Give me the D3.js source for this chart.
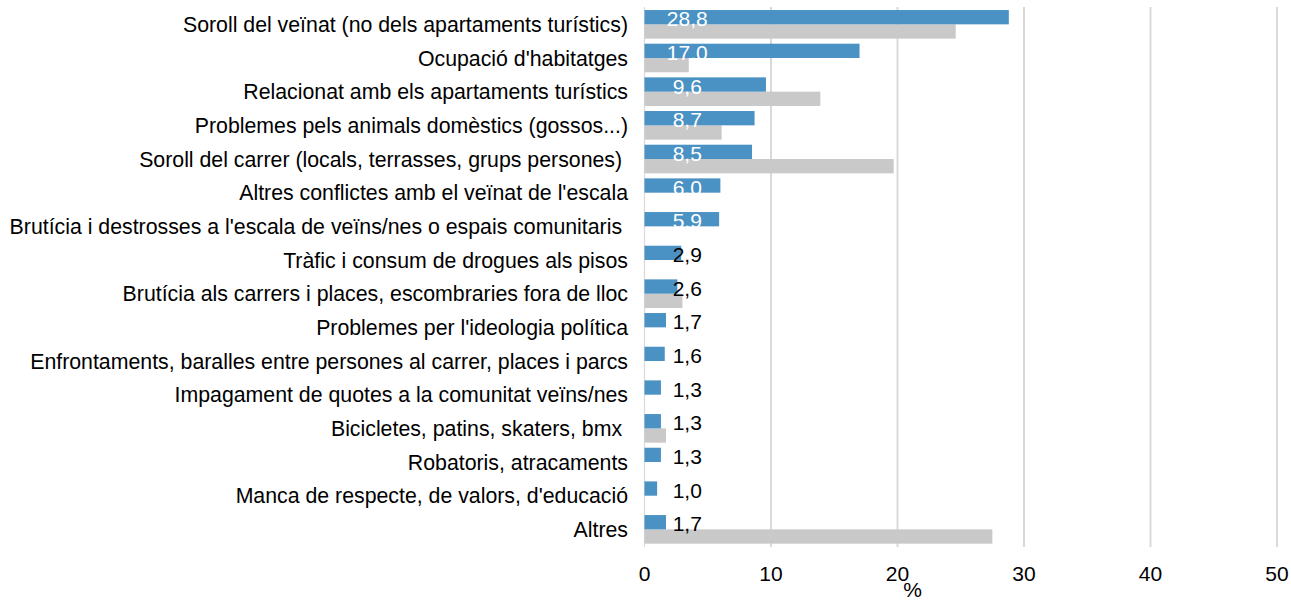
<!DOCTYPE html>
<html>
<head>
<meta charset="utf-8">
<script src="https://cdn.jsdelivr.net/npm/d3@7"></script>
<style>
    body { margin: 0; background: #fff; }
    svg text { font-family: "Liberation Sans", Arial, sans-serif; }
</style>
</head>
<body>
<svg id="chart" width="1291" height="600"></svg>
<script>
// categories, top to bottom
var categories = [
    "Soroll del veïnat (no dels apartaments turístics)",
    "Ocupació d'habitatges",
    "Relacionat amb els apartaments turístics",
    "Problemes pels animals domèstics (gossos...)",
    "Soroll del carrer (locals, terrasses, grups persones) ",
    "Altres conflictes amb el veïnat de l'escala",
    "Brutícia i destrosses a l'escala de veïns/nes o espais comunitaris ",
    "Tràfic i consum de drogues als pisos",
    "Brutícia als carrers i places, escombraries fora de lloc",
    "Problemes per l'ideologia política",
    "Enfrontaments, baralles entre persones al carrer, places i parcs",
    "Impagament de quotes a la comunitat veïns/nes",
    "Bicicletes, patins, skaters, bmx ",
    "Robatoris, atracaments",
    "Manca de respecte, de valors, d'educació",
    "Altres"
];

// blue series (labelled)
var valuesBlue = [28.8, 17.0, 9.6, 8.7, 8.5, 6.0, 5.9, 2.9, 2.6, 1.7, 1.6, 1.3, 1.3, 1.3, 1.0, 1.7];
// grey series (no labels)
var valuesGrey = [24.6, 3.5, 13.9, 6.1, 19.7, 0, 0, 0, 3.0, 0, 0, 0, 1.7, 0, 0, 27.5];

var xTicks = [0, 10, 20, 30, 40, 50];

var svg = d3.select("#chart");

var x = d3.scaleLinear().domain([0, 50]).range([644.5, 1277]);

var y0 = d3.scaleBand()
    .domain(d3.range(categories.length))
    .range([7.5, 546.2]);

var y1 = d3.scaleBand()
    .domain(["blue", "grey"])
    .range([0, y0.bandwidth()])
    .paddingOuter(0.177);

// gridlines
svg.append("g").selectAll("line")
    .data(xTicks)
    .enter().append("line")
    .attr("x1", function (d) { return x(d); })
    .attr("x2", function (d) { return x(d); })
    .attr("y1", 7)
    .attr("y2", 547)
    .attr("stroke", "#d9d9d9")
    .attr("stroke-width", function (d) { return d === 0 ? 1.2 : 2; });

// bars
var rows = svg.append("g").selectAll("g")
    .data(categories)
    .enter().append("g")
    .attr("transform", function (d, i) { return "translate(0," + y0(i) + ")"; });

rows.append("rect")
    .attr("x", x(0))
    .attr("y", y1("grey"))
    .attr("width", function (d, i) { return x(valuesGrey[i]) - x(0); })
    .attr("height", y1.bandwidth())
    .attr("fill", "#c9c9c9");

rows.append("rect")
    .attr("x", x(0))
    .attr("y", y1("blue"))
    .attr("width", function (d, i) { return x(valuesBlue[i]) - x(0); })
    .attr("height", y1.bandwidth())
    .attr("fill", "#4a91c4");

// value labels on blue bars
rows.append("text")
    .attr("x", x(3.38))
    .attr("y", y1("blue") + y1.bandwidth() / 2 + 1.6)
    .attr("dy", "0.36em")
    .attr("text-anchor", "middle")
    .attr("font-size", 21)
    .attr("fill", function (d, i) { return valuesBlue[i] > 5 ? "#ffffff" : "#000000"; })
    .text(function (d, i) { return d3.format(".1f")(valuesBlue[i]).replace(".", ","); });

// category labels
rows.append("text")
    .attr("x", 628)
    .attr("y", y0.bandwidth() / 2)
    .attr("dy", "0.36em")
    .attr("text-anchor", "end")
    .attr("font-size", 21.3)
    .attr("fill", "#000")
    .style("white-space", "pre")
    .text(function (d) { return d; });

// x axis tick labels
svg.append("g").selectAll("text")
    .data(xTicks)
    .enter().append("text")
    .attr("x", function (d) { return x(d); })
    .attr("y", 581)
    .attr("text-anchor", "middle")
    .attr("font-size", 21)
    .attr("fill", "#000")
    .text(function (d) { return d; });

svg.append("text")
    .attr("x", x(21.2))
    .attr("y", 597)
    .attr("text-anchor", "middle")
    .attr("font-size", 21)
    .text("%");
</script>
</body>
</html>
